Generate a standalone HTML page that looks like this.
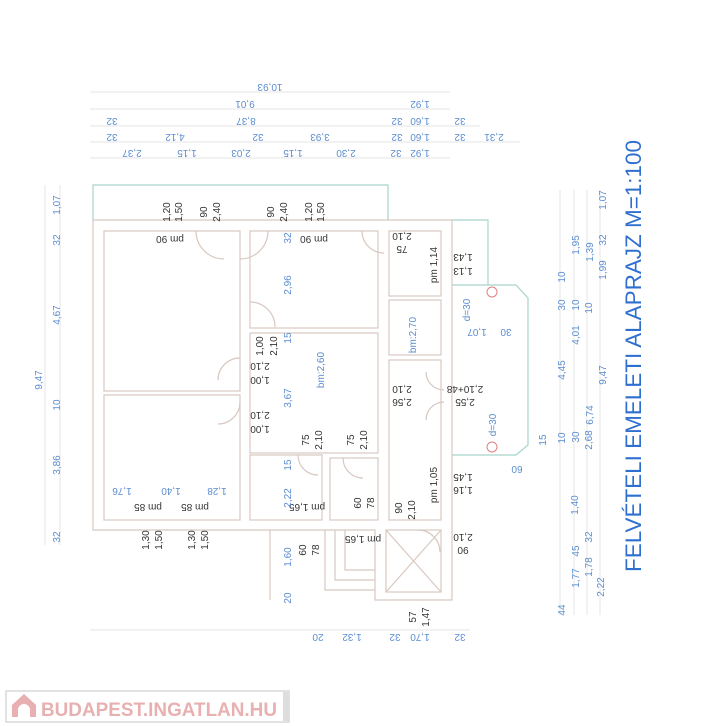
<!DOCTYPE html>
<html><head><meta charset="utf-8"><style>
html,body{margin:0;padding:0;background:#fff;}
svg{display:block}
text{font-family:"Liberation Sans",sans-serif;}
.b{fill:#5b8dd0;font-size:10px}
.k{fill:#333;font-size:10px}
.w{stroke:#d8c8c0;stroke-width:1.2;fill:none}
.g{stroke:#e6e6e6;stroke-width:1;fill:none}
.t{stroke:#a8d4cc;stroke-width:1.2;fill:none}
</style></head><body>
<svg width="724" height="726" viewBox="0 0 724 726" xmlns="http://www.w3.org/2000/svg">
<g class="g">
<line x1="90" y1="92" x2="450" y2="92"/><line x1="90" y1="109" x2="450" y2="109"/>
<line x1="90" y1="126" x2="480" y2="126"/><line x1="90" y1="142" x2="520" y2="142"/>
<line x1="90" y1="158" x2="450" y2="158"/>
<line x1="90" y1="630" x2="470" y2="630"/>
<line x1="45" y1="185" x2="45" y2="545"/><line x1="60" y1="185" x2="60" y2="545"/>
<line x1="560" y1="190" x2="560" y2="615"/><line x1="574" y1="190" x2="574" y2="615"/>
<line x1="587" y1="190" x2="587" y2="615"/><line x1="600" y1="190" x2="600" y2="615"/>
</g>
<g class="b" text-anchor="middle">
<g transform="rotate(180 270 88)"><text x="270" y="92">10,93</text></g>
<g transform="rotate(180 245 105)"><text x="245" y="109">9,01</text></g>
<g transform="rotate(180 420 105)"><text x="420" y="109">1,92</text></g>
<g transform="rotate(180 112 122)"><text x="112" y="126">32</text></g>
<g transform="rotate(180 246 122)"><text x="246" y="126">8,37</text></g>
<g transform="rotate(180 397 122)"><text x="397" y="126">32</text></g>
<g transform="rotate(180 420 122)"><text x="420" y="126">1,60</text></g>
<g transform="rotate(180 460 122)"><text x="460" y="126">32</text></g>
<g transform="rotate(180 112 138)"><text x="112" y="142">32</text></g>
<g transform="rotate(180 175 138)"><text x="175" y="142">4,12</text></g>
<g transform="rotate(180 258 138)"><text x="258" y="142">32</text></g>
<g transform="rotate(180 320 138)"><text x="320" y="142">3,93</text></g>
<g transform="rotate(180 397 138)"><text x="397" y="142">32</text></g>
<g transform="rotate(180 420 138)"><text x="420" y="142">1,60</text></g>
<g transform="rotate(180 460 138)"><text x="460" y="142">32</text></g>
<g transform="rotate(180 494 138)"><text x="494" y="142">2,31</text></g>
<g transform="rotate(180 132 154)"><text x="132" y="158">2,37</text></g>
<g transform="rotate(180 187 154)"><text x="187" y="158">1,15</text></g>
<g transform="rotate(180 241 154)"><text x="241" y="158">2,03</text></g>
<g transform="rotate(180 293 154)"><text x="293" y="158">1,15</text></g>
<g transform="rotate(180 346 154)"><text x="346" y="158">2,30</text></g>
<g transform="rotate(180 396 154)"><text x="396" y="158">32</text></g>
<g transform="rotate(180 420 154)"><text x="420" y="158">1,92</text></g>
<g transform="rotate(180 318 638)"><text x="318" y="642">20</text></g>
<g transform="rotate(180 352 638)"><text x="352" y="642">1,32</text></g>
<g transform="rotate(180 395 638)"><text x="395" y="642">32</text></g>
<g transform="rotate(180 420 638)"><text x="420" y="642">1,70</text></g>
<g transform="rotate(180 460 638)"><text x="460" y="642">32</text></g>
<g transform="rotate(-90 56 205)"><text x="56" y="209">1,07</text></g>
<g transform="rotate(-90 56 240)"><text x="56" y="244">32</text></g>
<g transform="rotate(-90 56 315)"><text x="56" y="319">4,67</text></g>
<g transform="rotate(-90 38 380)"><text x="38" y="384">9,47</text></g>
<g transform="rotate(-90 56 405)"><text x="56" y="409">10</text></g>
<g transform="rotate(-90 56 465)"><text x="56" y="469">3,86</text></g>
<g transform="rotate(-90 56 537)"><text x="56" y="541">32</text></g>
<g transform="rotate(-90 561 305)"><text x="561" y="309">30</text></g>
<g transform="rotate(-90 542 440)"><text x="542" y="444">15</text></g>
<g transform="rotate(-90 561 438)"><text x="561" y="442">10</text></g>
<g transform="rotate(-90 574 505)"><text x="574" y="509">1,40</text></g>
<g transform="rotate(-90 561 610)"><text x="561" y="614">44</text></g>
<g transform="rotate(-90 575 245)"><text x="575" y="249">1,95</text></g>
<g transform="rotate(-90 575 335)"><text x="575" y="339">4,01</text></g>
<g transform="rotate(-90 561 370)"><text x="561" y="374">4,45</text></g>
<g transform="rotate(-90 575 437)"><text x="575" y="441">30</text></g>
<g transform="rotate(-90 575 551)"><text x="575" y="555">45</text></g>
<g transform="rotate(-90 575 578)"><text x="575" y="582">1,77</text></g>
<g transform="rotate(-90 589 252)"><text x="589" y="256">1,39</text></g>
<g transform="rotate(-90 561 277)"><text x="561" y="281">10</text></g>
<g transform="rotate(-90 575 305)"><text x="575" y="309">10</text></g>
<g transform="rotate(-90 588 440)"><text x="588" y="444">2,68</text></g>
<g transform="rotate(-90 588 537)"><text x="588" y="541">32</text></g>
<g transform="rotate(-90 588 567)"><text x="588" y="571">1,78</text></g>
<g transform="rotate(-90 602 200)"><text x="602" y="204">1,07</text></g>
<g transform="rotate(-90 602 240)"><text x="602" y="244">32</text></g>
<g transform="rotate(-90 602 270)"><text x="602" y="274">1,99</text></g>
<g transform="rotate(-90 602 375)"><text x="602" y="379">9,47</text></g>
<g transform="rotate(-90 589 415)"><text x="589" y="419">6,74</text></g>
<g transform="rotate(-90 600 587)"><text x="600" y="591">2,22</text></g>
<g transform="rotate(-90 588 308)"><text x="588" y="312">10</text></g>
</g>
<text transform="translate(641,572) rotate(-90)" style="font-size:22.5px;fill:#2f6fd0;font-family:'Liberation Sans',sans-serif" textLength="432" lengthAdjust="spacingAndGlyphs">FELVÉTELI EMELETI ALAPRAJZ M=1:100</text>
<path class="t" d="M93 220 V185 H388 V220"/>
<path class="t" d="M452 220 H488 V285"/>
<path class="t" d="M452 285 H516 L528 298 V445 L516 455 H452"/>
<circle cx="492" cy="292" r="5" fill="none" stroke="#e08080"/>
<circle cx="492" cy="447" r="5" fill="none" stroke="#e08080"/>
<g class="w">
<path d="M93 220 H452 V600 H375 V530 H93 Z"/>
<rect x="104" y="231" width="136" height="160"/>
<rect x="104" y="395" width="136" height="125"/>
<rect x="250" y="231" width="128" height="97"/>
<rect x="250" y="333" width="128" height="120"/>
<rect x="389" y="231" width="52" height="65"/>
<rect x="389" y="300" width="52" height="55"/>
<rect x="389" y="360" width="52" height="160"/>
<rect x="250" y="455" width="72" height="65"/>
<rect x="330" y="458" width="48" height="62"/>
<rect x="386" y="530" width="55" height="62"/>
<path d="M386 530 L441 592 M441 530 L386 592"/>
<path d="M325 530 V590 H375 M335 530 V580 H375 M345 530 V570 H375"/>
<path d="M270 530 V600"/>
<path d="M196 231 A28 28 0 0 0 224 259 M268 231 A28 28 0 0 1 240 259 M362 231 A22 22 0 0 0 384 253"/>
<path d="M240 358 A22 22 0 0 0 218 380 M240 402 A22 22 0 0 1 218 424 M250 302 A25 25 0 0 1 275 327"/>
<path d="M298 455 A20 20 0 0 0 318 475 M343 458 A20 20 0 0 0 363 478 M426 372 A18 18 0 0 0 444 390 M426 420 A18 18 0 0 1 444 402 M418 530 A22 22 0 0 1 440 552"/>
</g>
<g class="k" text-anchor="middle">
<g transform="rotate(-90 166 212)"><text x="166" y="216">1,20</text></g>
<g transform="rotate(-90 178 212)"><text x="178" y="216">1,50</text></g>
<g transform="rotate(-90 203 212)"><text x="203" y="216">90</text></g>
<g transform="rotate(-90 216 212)"><text x="216" y="216">2,40</text></g>
<g transform="rotate(-90 270 212)"><text x="270" y="216">90</text></g>
<g transform="rotate(-90 283 212)"><text x="283" y="216">2,40</text></g>
<g transform="rotate(-90 308 212)"><text x="308" y="216">1,20</text></g>
<g transform="rotate(-90 320 212)"><text x="320" y="216">1,50</text></g>
<g transform="rotate(180 170 240)"><text x="170" y="244">pm 90</text></g>
<g transform="rotate(180 314 240)"><text x="314" y="244">pm 90</text></g>
<g transform="rotate(180 402 237)"><text x="402" y="241">2,10</text></g>
<g transform="rotate(180 402 250)"><text x="402" y="254">75</text></g>
<g transform="rotate(-90 433 265)"><text x="433" y="269">pm 1,14</text></g>
<g transform="rotate(180 463 258)"><text x="463" y="262">1,43</text></g>
<g transform="rotate(180 463 272)"><text x="463" y="276">1,13</text></g>
<g transform="rotate(-90 259 346)"><text x="259" y="350">1,00</text></g>
<g transform="rotate(-90 273 346)"><text x="273" y="350">2,10</text></g>
<g transform="rotate(180 260 367)"><text x="260" y="371">2,10</text></g>
<g transform="rotate(180 260 381)"><text x="260" y="385">1,00</text></g>
<g transform="rotate(180 260 416)"><text x="260" y="420">2,10</text></g>
<g transform="rotate(180 260 430)"><text x="260" y="434">1,00</text></g>
<g transform="rotate(180 402 390)"><text x="402" y="394">2,10</text></g>
<g transform="rotate(180 402 403)"><text x="402" y="407">2,56</text></g>
<g transform="rotate(180 465 390)"><text x="465" y="394">2,10+48</text></g>
<g transform="rotate(180 465 403)"><text x="465" y="407">2,55</text></g>
<g transform="rotate(-90 305 440)"><text x="305" y="444">75</text></g>
<g transform="rotate(-90 318 440)"><text x="318" y="444">2,10</text></g>
<g transform="rotate(-90 350 440)"><text x="350" y="444">75</text></g>
<g transform="rotate(-90 363 440)"><text x="363" y="444">2,10</text></g>
<g transform="rotate(-90 433 485)"><text x="433" y="489">pm 1,05</text></g>
<g transform="rotate(180 463 478)"><text x="463" y="482">1,45</text></g>
<g transform="rotate(180 463 491)"><text x="463" y="495">1,16</text></g>
<g transform="rotate(180 148 508)"><text x="148" y="512">pm 85</text></g>
<g transform="rotate(180 195 508)"><text x="195" y="512">pm 85</text></g>
<g transform="rotate(180 307 508)"><text x="307" y="512">pm 1,65</text></g>
<g transform="rotate(-90 357 503)"><text x="357" y="507">60</text></g>
<g transform="rotate(-90 370 503)"><text x="370" y="507">78</text></g>
<g transform="rotate(-90 398 508)"><text x="398" y="512">90</text></g>
<g transform="rotate(-90 411 510)"><text x="411" y="514">2,10</text></g>
<g transform="rotate(-90 145 540)"><text x="145" y="544">1,30</text></g>
<g transform="rotate(-90 158 540)"><text x="158" y="544">1,50</text></g>
<g transform="rotate(-90 191 540)"><text x="191" y="544">1,30</text></g>
<g transform="rotate(-90 204 540)"><text x="204" y="544">1,50</text></g>
<g transform="rotate(-90 302 550)"><text x="302" y="554">60</text></g>
<g transform="rotate(-90 315 550)"><text x="315" y="554">78</text></g>
<g transform="rotate(180 363 540)"><text x="363" y="544">pm 1,65</text></g>
<g transform="rotate(180 463 538)"><text x="463" y="542">2,10</text></g>
<g transform="rotate(180 463 551)"><text x="463" y="555">90</text></g>
<g transform="rotate(-90 412 617)"><text x="412" y="621">57</text></g>
<g transform="rotate(-90 425 617)"><text x="425" y="621">1,47</text></g>
</g>
<g class="b" text-anchor="middle">
<g transform="rotate(-90 287 238)"><text x="287" y="242">32</text></g>
<g transform="rotate(-90 287 285)"><text x="287" y="289">2,96</text></g>
<g transform="rotate(-90 287 338)"><text x="287" y="342">15</text></g>
<g transform="rotate(-90 320 370)"><text x="320" y="374">bm:2,60</text></g>
<g transform="rotate(-90 287 398)"><text x="287" y="402">3,67</text></g>
<g transform="rotate(-90 412 335)"><text x="412" y="339">bm:2,70</text></g>
<g transform="rotate(-90 466 310)"><text x="466" y="314">d=30</text></g>
<g transform="rotate(180 477 333)"><text x="477" y="337">1,07</text></g>
<g transform="rotate(180 506 333)"><text x="506" y="337">30</text></g>
<g transform="rotate(-90 492 425)"><text x="492" y="429">d=30</text></g>
<g transform="rotate(180 517 470)"><text x="517" y="474">60</text></g>
<g transform="rotate(-90 287 465)"><text x="287" y="469">15</text></g>
<g transform="rotate(-90 287 498)"><text x="287" y="502">2,22</text></g>
<g transform="rotate(-90 287 557)"><text x="287" y="561">1,60</text></g>
<g transform="rotate(-90 287 598)"><text x="287" y="602">20</text></g>
<g transform="rotate(180 122 492)"><text x="122" y="496">1,76</text></g>
<g transform="rotate(180 171 492)"><text x="171" y="496">1,40</text></g>
<g transform="rotate(180 217 492)"><text x="217" y="496">1,28</text></g>
</g>
<rect x="6" y="691" width="283" height="31" fill="#fff" stroke="#d8d8d8" stroke-width="1.5"/>
<rect x="283" y="692" width="6" height="29" fill="#ddd"/>
<path d="M12 705 L24 694 L36 705 V717 H30 V710 A6 6 0 0 0 18 710 V717 H12 Z" fill="#e8b0b0"/>
<text x="41" y="716" style="font-size:19px;font-weight:bold;fill:#e8b0b0;font-family:'Liberation Sans',sans-serif" textLength="236" lengthAdjust="spacingAndGlyphs">BUDAPEST.INGATLAN.HU</text>
</svg>
</body></html>
